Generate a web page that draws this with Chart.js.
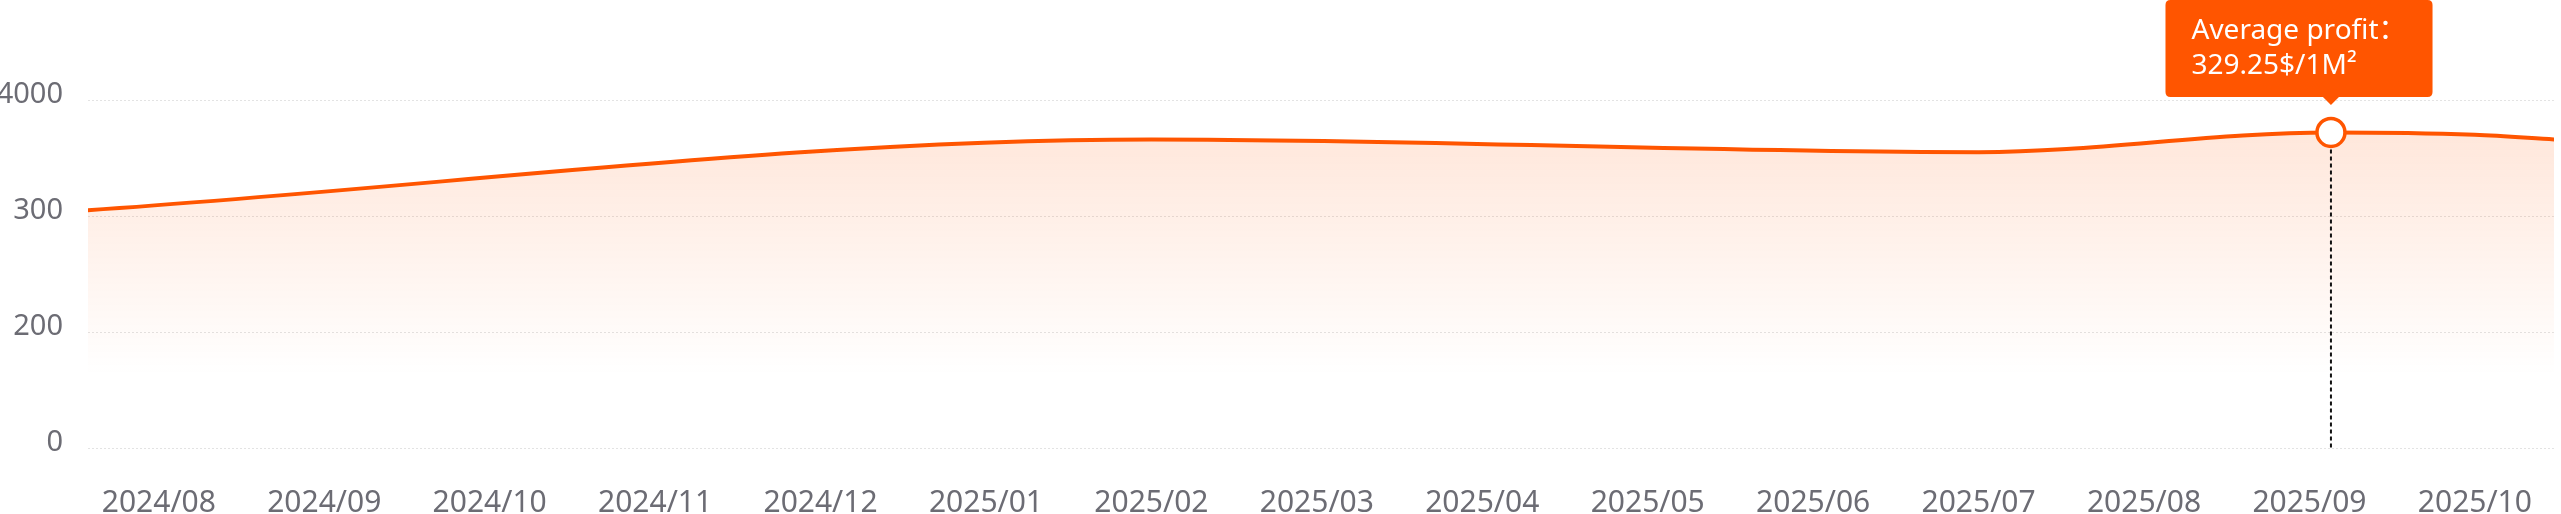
<!DOCTYPE html>
<html>
<head>
<meta charset="utf-8">
<title>Average profit</title>
<script src="https://cdn.jsdelivr.net/npm/chart.js@4.4.1/dist/chart.umd.min.js"></script>
<style>
  html, body { margin: 0; padding: 0; background: #fff; overflow: hidden; }
  #wrap { width: 2561px; height: 514px; position: relative; }
</style>
</head>
<body>
<div id="wrap"><canvas id="profitChart"></canvas></div>
<script>
// Tick labels
const monthLabels = ['2024/08', '2024/09', '2024/10', '2024/11', '2024/12', '2025/01', '2025/02', '2025/03',
                     '2025/04', '2025/05', '2025/06', '2025/07', '2025/08', '2025/09', '2025/10'];
const yTickValues = [0, 200, 300, 400];
const yTickLabels = ['0', '200', '300', '4000'];

// Series (x in months after 2024/08)
const sampleMonths = [-0.43, 6, 11, 13.13, 14, 14.48];
const profitValues = [305, 366, 355, 372, 370, 366];

// Highlighted point
const activeIndex = 3;
const tipTitle = 'Average profit：';
const tipValue = '329.25';

const orange = '#ff5500';
const fontFamily = '"Noto Sans", "Noto Sans CJK SC", sans-serif';

// y axis ticks are evenly spaced even though their values are not
class StepLinearScale extends Chart.LinearScale {
    buildTicks() {
        return yTickValues.map(v => ({ value: v }));
    }
    getPixelForValue(value) {
        const n = yTickValues.length - 1;
        let pos = 0;
        for (let i = 0; i < n; i++) {
            const a = yTickValues[i], b = yTickValues[i + 1];
            if (value <= b || i === n - 1) {
                pos = i + (value - a) / (b - a);
                break;
            }
        }
        return this.getPixelForDecimal(pos / n);
    }
    getValueForPixel(pixel) {
        const n = yTickValues.length - 1;
        const pos = Math.max(0, Math.min(n, this.getDecimalForPixel(pixel) * n));
        const i = Math.min(n - 1, Math.floor(pos));
        return yTickValues[i] + (pos - i) * (yTickValues[i + 1] - yTickValues[i]);
    }
}
StepLinearScale.id = 'stepLinear';
StepLinearScale.defaults = Chart.LinearScale.defaults;
Chart.register(StepLinearScale);

// tooltip box sits a bit left of the point, caret stays on the point
const TooltipPlugin = Chart.Tooltip || Chart.registry.plugins.get('tooltip');
TooltipPlugin.positioners.pinned = function(items) {
    if (!items.length) return false;
    const el = items[0].element;
    return { x: el.x - 32, y: el.y - 30 };
};

const caretFix = {
    id: 'caretFix',
    beforeTooltipDraw(chart, args) {
        const el = chart.getDatasetMeta(0).data[activeIndex];
        if (el) args.tooltip.caretX = el.x;
    }
};

// dotted line from the active point to the bottom
const guideLine = {
    id: 'guideLine',
    afterDatasetsDraw(chart) {
        const el = chart.getDatasetMeta(0).data[activeIndex];
        if (!el) return;
        const ctx = chart.ctx;
        ctx.save();
        ctx.setLineDash([4, 3]);
        ctx.lineWidth = 2;
        ctx.strokeStyle = '#111';
        ctx.beginPath();
        ctx.moveTo(el.x, el.y + 17);
        ctx.lineTo(el.x, chart.chartArea.bottom);
        ctx.stroke();
        ctx.restore();
    }
};

Chart.defaults.font.family = fontFamily;

const pointSize = ctx => ctx.dataIndex === activeIndex ? 14 : 0;

const chart = new Chart(document.getElementById('profitChart'), {
    type: 'line',
    data: {
        datasets: [{
            label: 'Average profit',
            data: sampleMonths.map((m, i) => ({ x: m, y: profitValues[i] })),
            borderColor: orange,
            borderWidth: 4,
            cubicInterpolationMode: 'monotone',
            fill: 'origin',
            backgroundColor: function(context) {
                const { ctx, chartArea } = context.chart;
                if (!chartArea) return 'rgba(255,85,0,0.1)';
                const g = ctx.createLinearGradient(0, chartArea.top + 20, 0, chartArea.top + 275);
                g.addColorStop(0, 'rgba(255,85,0,0.15)');
                g.addColorStop(1, 'rgba(255,85,0,0)');
                return g;
            },
            pointRadius: pointSize,
            pointHoverRadius: pointSize,
            pointBackgroundColor: '#fff',
            pointHoverBackgroundColor: '#fff',
            pointBorderColor: orange,
            pointHoverBorderColor: orange,
            pointBorderWidth: 3.5,
            pointHoverBorderWidth: 3.5
        }]
    },
    options: {
        responsive: true,
        maintainAspectRatio: false,
        animation: false,
        events: [],
        layout: { padding: { top: 100, left: 0, right: 0, bottom: 0 } },
        scales: {
            x: {
                type: 'linear',
                min: -0.428,
                max: 14.478,
                afterBuildTicks: axis => {
                    axis.ticks = monthLabels.map((_, i) => ({ value: i }));
                },
                afterFit: scale => { scale.height = 66; },
                grid: { display: false },
                border: { display: false },
                ticks: {
                    autoSkip: false,
                    maxRotation: 0,
                    padding: 29,
                    color: '#6c6c74',
                    font: { size: 30 },
                    callback: (v, i) => monthLabels[i]
                }
            },
            y: {
                type: 'stepLinear',
                min: 0,
                max: 400,
                afterFit: scale => { scale.width = 88; },
                grid: { color: '#e3e3e3', lineWidth: 1, drawTicks: false },
                border: { display: false, dash: [2, 2] },
                ticks: {
                    padding: 25,
                    labelOffset: -5,
                    color: '#6c6c74',
                    font: { size: 29 },
                    callback: (v, i) => yTickLabels[i]
                }
            }
        },
        plugins: {
            legend: { display: false },
            tooltip: {
                enabled: true,
                position: 'pinned',
                xAlign: 'center',
                yAlign: 'bottom',
                backgroundColor: orange,
                titleColor: '#fff',
                bodyColor: '#fff',
                titleFont: { size: 28, weight: 'normal', lineHeight: 1.25 },
                bodyFont: { size: 28, weight: 'normal', lineHeight: 1.25 },
                titleMarginBottom: 0,
                padding: { top: 14, bottom: 13, left: 26, right: 26 },
                caretSize: 8,
                caretPadding: 0,
                cornerRadius: 5,
                displayColors: false,
                callbacks: {
                    title: () => tipTitle,
                    label: () => tipValue + '$/1M²'
                }
            }
        }
    },
    plugins: [guideLine, caretFix]
});

chart.setActiveElements([{ datasetIndex: 0, index: activeIndex }]);
chart.tooltip.setActiveElements([{ datasetIndex: 0, index: activeIndex }], { x: 0, y: 0 });
chart.update();
</script>
</body>
</html>
